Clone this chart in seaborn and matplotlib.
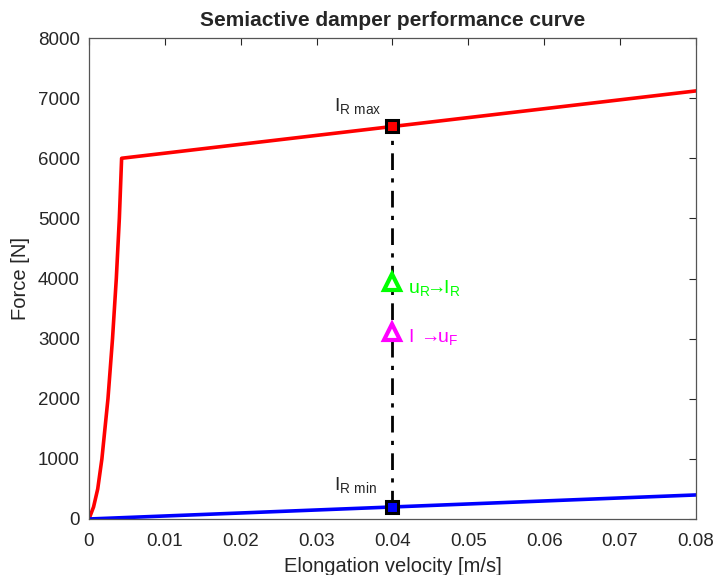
import matplotlib
matplotlib.use("Agg")
import matplotlib.pyplot as plt
import seaborn as sns
import pandas as pd

# Data
red_v = [0.0, 0.0006, 0.00115, 0.0017, 0.0025, 0.0031, 0.0036, 0.0040, 0.0043, 0.08]
red_f = [0, 200, 500, 1000, 2000, 3000, 4000, 5000, 6000, 7120]
blue_v = [0.0, 0.08]
blue_f = [0, 400]
op_v = 0.04
rmax_f = 6530
rmin_f = 200
green_f = 3950
magenta_f = 3110
x_ticks = [0, 0.01, 0.02, 0.03, 0.04, 0.05, 0.06, 0.07, 0.08]
x_tick_labels = ["0", "0.01", "0.02", "0.03", "0.04", "0.05", "0.06", "0.07", "0.08"]
y_ticks = [0, 1000, 2000, 3000, 4000, 5000, 6000, 7000, 8000]

sns.set_style("white")
plt.rcParams['font.family'] = ['Liberation Sans', 'DejaVu Sans']
plt.rcParams['mathtext.fontset'] = 'custom'
plt.rcParams['mathtext.rm'] = 'Liberation Sans'

fig = plt.figure(figsize=(7.16, 5.75), dpi=100)
ax = fig.add_axes([0.1243, 0.0974, 0.8477, 0.8365])

red_df = pd.DataFrame({"v": red_v, "F": red_f})
blue_df = pd.DataFrame({"v": blue_v, "F": blue_f})
sns.lineplot(data=red_df, x="v", y="F", color=(1, 0, 0), lw=2.6, ax=ax, sort=False)
sns.lineplot(data=blue_df, x="v", y="F", color=(0, 0, 1), lw=2.6, ax=ax, sort=False)

vert_df = pd.DataFrame({"v": [op_v, op_v], "F": [rmin_f, rmax_f]})
ax.plot(vert_df["v"], vert_df["F"], color="black", lw=2.0, ls=(0, (6, 3, 1.5, 3)), zorder=3)

ax.plot([op_v], [rmax_f], marker="s", ms=8, mfc=(1, 0, 0), mec="black", mew=2.2, zorder=5)
ax.plot([op_v], [rmin_f], marker="s", ms=8, mfc=(0, 0, 1), mec="black", mew=2.2, zorder=5)
ax.plot([op_v], [green_f], marker="^", ms=12, mfc="white", mec=(0, 1, 0), mew=3, zorder=5)
ax.plot([op_v], [magenta_f], marker="^", ms=12, mfc="white", mec=(1, 0, 1), mew=3, zorder=5)

fs = 14
ax.text(0.0385, 6870, r"$\mathregular{I_{R\ max}}$", ha="right", va="center", fontsize=fs)
ax.text(0.0380, 570, r"$\mathregular{I_{R\ min}}$", ha="right", va="center", fontsize=fs)
ax.text(0.0420, 3840, r"$\mathregular{u_R\!\!\rightarrow\!\! I_R}$", ha="left", va="center",
        fontsize=fs, color=(0, 1, 0))
ax.text(0.0420, 3030, r"$\mathregular{I\,\rightarrow\!\! u_F}$", ha="left", va="center",
        fontsize=fs, color=(1, 0, 1))

ax.set_xlim(0, 0.08)
ax.set_ylim(0, 8000)
ax.set_xticks(x_ticks)
ax.set_xticklabels(x_tick_labels)
ax.set_yticks(y_ticks)
ax.tick_params(direction="in", length=5, width=0.8, colors="#262626", labelsize=13.5,
               top=True, right=True)
ax.tick_params(axis="x", pad=10)
ax.tick_params(axis="y", pad=6.5)
for s in ax.spines.values():
    s.set_color("#555555")
    s.set_linewidth(0.9)
    s.set_visible(True)

ax.set_xlabel("Elongation velocity [m/s]", fontsize=14.5, color="#262626", labelpad=5)
ax.set_ylabel("Force [N]", fontsize=14.5, color="#262626", labelpad=6)
ax.set_title("Semiactive damper performance curve", fontsize=15, fontweight="bold", pad=9)

fig.savefig("out.png", dpi=100)
